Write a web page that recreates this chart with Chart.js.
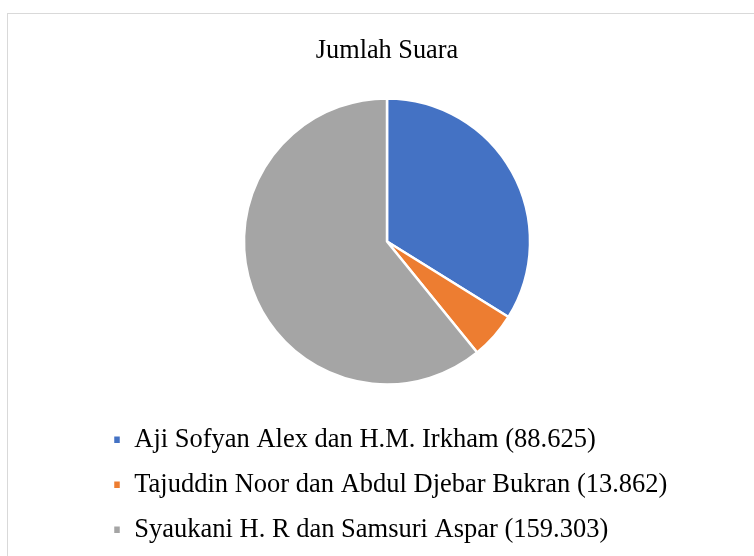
<!DOCTYPE html>
<html>
<head>
<meta charset="utf-8">
<script src="https://cdn.jsdelivr.net/npm/chart.js@4/dist/chart.umd.min.js"></script>
<style>
  html, body { margin: 0; padding: 0; background: #ffffff; }
  body { width: 754px; height: 556px; position: relative; overflow: hidden; }
  #frame { position: absolute; left: 7px; top: 13px; width: 800px; height: 600px; border: 1px solid #d9d9d9; box-sizing: border-box; }
  #wrap { position: absolute; left: 0; top: 0; width: 754px; height: 553px; }
</style>
</head>
<body>
<div id="frame"></div>
<div id="wrap"><canvas id="c" width="754" height="553"></canvas></div>
<script>
const chartTitle = "Jumlah Suara";
const categories = [
  "Aji Sofyan Alex dan H.M. Irkham",
  "Tajuddin Noor dan Abdul Djebar Bukran",
  "Syaukani H. R dan Samsuri Aspar"
];
const votes = [88625, 13862, 159303];
const sliceColors = ["#4472C4", "#ED7D31", "#A5A5A5"];

function fmt(n) {
  return String(n).replace(/\B(?=(\d{3})+(?!\d))/g, ".");
}
const legendLabels = categories.map((c, i) => c + " (" + fmt(votes[i]) + ")");
const serif = "'Liberation Serif', 'Times New Roman', serif";

new Chart(document.getElementById("c"), {
  type: "pie",
  data: {
    labels: legendLabels,
    datasets: [{
      data: votes,
      backgroundColor: sliceColors,
      borderColor: "#ffffff",
      borderWidth: 2.5
    }]
  },
  options: {
    responsive: false,
    animation: false,
    layout: { padding: { left: 94.5, right: 74.5, top: 0, bottom: 0 } },
    plugins: {
      title: {
        display: true,
        text: chartTitle,
        color: "#000000",
        font: { family: serif, size: 26.3, weight: "normal", lineHeight: 1.2 },
        padding: { top: 35.6, bottom: 30 }
      },
      legend: {
        display: true,
        position: "bottom",
        align: "start",
        title: {
          display: true,
          text: "",
          font: { size: 10, lineHeight: 1.2 },
          padding: { top: 10.25, bottom: 0 }
        },
        labels: {
          color: "#000000",
          boxWidth: 8,
          boxHeight: 9,
          padding: 18.5,
          font: { family: serif, size: 26.5 }
        }
      },
      tooltip: { enabled: false }
    }
  }
});
</script>
</body>
</html>
